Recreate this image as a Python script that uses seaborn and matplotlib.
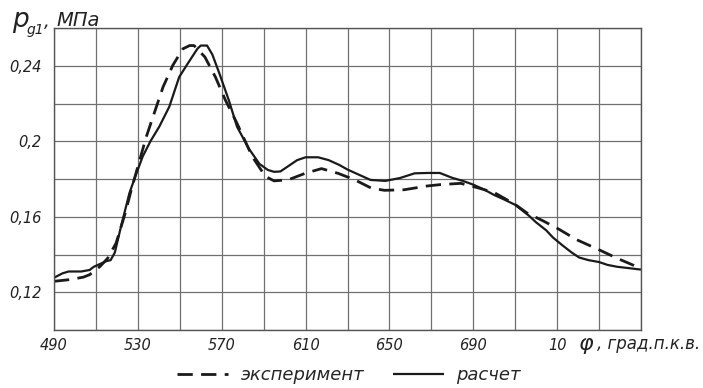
import numpy as np
import pandas as pd
import matplotlib
matplotlib.use("Agg")
import matplotlib.pyplot as plt
import seaborn as sns

# ---------------- data ----------------
phi_calc = [490, 494, 497, 503, 507, 509, 512, 515, 517, 519, 522, 526, 529, 532.3,
            536, 540.2, 545, 549.7, 553.7, 558.4, 560, 563, 565.5, 568.7, 573.4, 577.3,
            583, 588, 592, 595, 598, 602, 606, 610, 616, 621, 626, 630, 636, 641, 648,
            655, 662, 668, 674, 680, 685, 690, 695, 700, 705, 710, 716.6, 720, 724.8,
            728, 732.7, 737, 740.5, 745, 750, 754, 758.6, 764, 770]
p_calc = [0.1277, 0.1300, 0.1310, 0.1310, 0.1318, 0.1335, 0.1350, 0.1365, 0.1370, 0.1410,
          0.1550, 0.1726, 0.1820, 0.1919, 0.2000, 0.2077, 0.2183, 0.2340, 0.2410, 0.2490,
          0.2507, 0.2507, 0.2460, 0.2365, 0.2217, 0.2077, 0.1960, 0.1880, 0.1848, 0.1838,
          0.1840, 0.1870, 0.1900, 0.1915, 0.1915, 0.1900, 0.1875, 0.1850, 0.1820, 0.1795,
          0.1790, 0.1805, 0.1830, 0.1832, 0.1832, 0.1806, 0.1790, 0.1770, 0.1745, 0.1715,
          0.1690, 0.1663, 0.1605, 0.1570, 0.1528, 0.1490, 0.1447, 0.1410, 0.1384, 0.1370,
          0.1360, 0.1345, 0.1335, 0.1328, 0.1320]

phi_exp = [490, 497.6, 504, 507, 512, 515.6, 519.6, 524, 526.8, 530, 534, 538, 542, 546.7,
           551.5, 554.7, 556.8, 562, 567, 571.8, 577.3, 584.5, 590.8, 595, 601.8, 609.8,
           617.6, 625.5, 633.4, 641.3, 647.6, 657, 668, 674, 684, 692, 700, 710, 715.6,
           723.5, 731, 739, 750, 758.6, 770]
p_exp = [0.1258, 0.1267, 0.1280, 0.1293, 0.1337, 0.1380, 0.1460, 0.1620, 0.1740, 0.1866,
         0.2023, 0.2155, 0.2287, 0.2403, 0.2490, 0.2507, 0.2507, 0.2446, 0.2340, 0.2217,
         0.2095, 0.1920, 0.1814, 0.1790, 0.1796, 0.1830, 0.1855, 0.1830, 0.1796, 0.1752,
         0.1740, 0.1743, 0.1763, 0.1770, 0.1777, 0.1754, 0.1728, 0.1665, 0.1620, 0.1577,
         0.1533, 0.1480, 0.1425, 0.1380, 0.1326]

series_names = ["эксперимент", "расчет"]

x_grid = list(range(490, 771, 20))
x_label_pos = [490, 530, 570, 610, 650, 690, 730]
x_label_txt = ["490", "530", "570", "610", "650", "690", "10"]

y_grid = [0.10, 0.12, 0.14, 0.16, 0.18, 0.20, 0.22, 0.24, 0.26]
y_label_pos = [0.12, 0.16, 0.20, 0.24]
y_label_txt = ["0,12", "0,16", "0,2", "0,24"]

# ---------------- plot ----------------
sns.set_theme(style="white")
plt.rcParams["font.family"] = ["DejaVu Sans"]
plt.rcParams["font.style"] = "italic"

df = pd.concat([
    pd.DataFrame({"phi": phi_exp, "p": p_exp, "series": series_names[0]}),
    pd.DataFrame({"phi": phi_calc, "p": p_calc, "series": series_names[1]}),
], ignore_index=True)

W, H = 703, 388
fig = plt.figure(figsize=(W / 100, H / 100), dpi=100)
fig.patch.set_facecolor("white")
ax = fig.add_axes([54 / W, 1 - 330 / H, (641 - 54) / W, (330 - 28) / H])

sns.lineplot(data=df, x="phi", y="p", style="series", style_order=series_names,
             dashes={series_names[0]: (5.5, 3.0), series_names[1]: ""},
             color="#1a1a1a", estimator=None, sort=False, ax=ax, legend=False)
for ln, lw in zip(ax.lines, [2.0, 1.6]):
    ln.set_linewidth(lw)
    ln.set_solid_capstyle("butt")

ax.set_xlim(490, 770)
ax.set_ylim(0.10, 0.26)

ax.set_xticks(x_grid)
ax.set_xticklabels([x_label_txt[x_label_pos.index(v)] if v in x_label_pos else ""
                    for v in x_grid])
ylp = [round(a, 3) for a in y_label_pos]
ax.set_yticks(y_grid)
ax.set_yticklabels([y_label_txt[ylp.index(round(v, 3))] if round(v, 3) in ylp else ""
                    for v in y_grid])
ax.tick_params(axis="both", length=0, labelsize=10.5, colors="#222222")
ax.tick_params(axis="x", pad=6)
ax.tick_params(axis="y", pad=9)
for lab in ax.get_xticklabels() + ax.get_yticklabels():
    lab.set_fontstyle("italic")

ax.grid(True, color="#707070", linewidth=0.9)
for s in ax.spines.values():
    s.set_color("#555555")
    s.set_linewidth(1.0)
ax.set_xlabel("")
ax.set_ylabel("")

# axis titles
fig.text(12 / W, 1 - 27 / H, "p", fontsize=19, style="italic", color="#222222")
fig.text(27 / W, 1 - 34 / H, "g1", fontsize=10, style="italic", color="#222222")
fig.text(44 / W, 1 - 27 / H, ",", fontsize=13, style="italic", color="#222222")
fig.text(56 / W, 1 - 26 / H, "МПа", fontsize=14, style="italic", color="#222222")

fig.text(579 / W, 1 - 350 / H, "φ", fontsize=16, style="italic", color="#222222")
fig.text(597 / W, 1 - 349 / H, ", град.п.к.в.", fontsize=12, style="italic",
         color="#222222")

# legend
handles = ax.lines[:2]
fig.legend(handles, series_names, loc="center", bbox_to_anchor=(349 / W, 1 - 375 / H),
           ncol=2, frameon=False, handlelength=2.8,
           columnspacing=1.6, handletextpad=0.7, prop={"style": "italic", "size": 13})

fig.savefig("out.png", dpi=100, facecolor="white")
